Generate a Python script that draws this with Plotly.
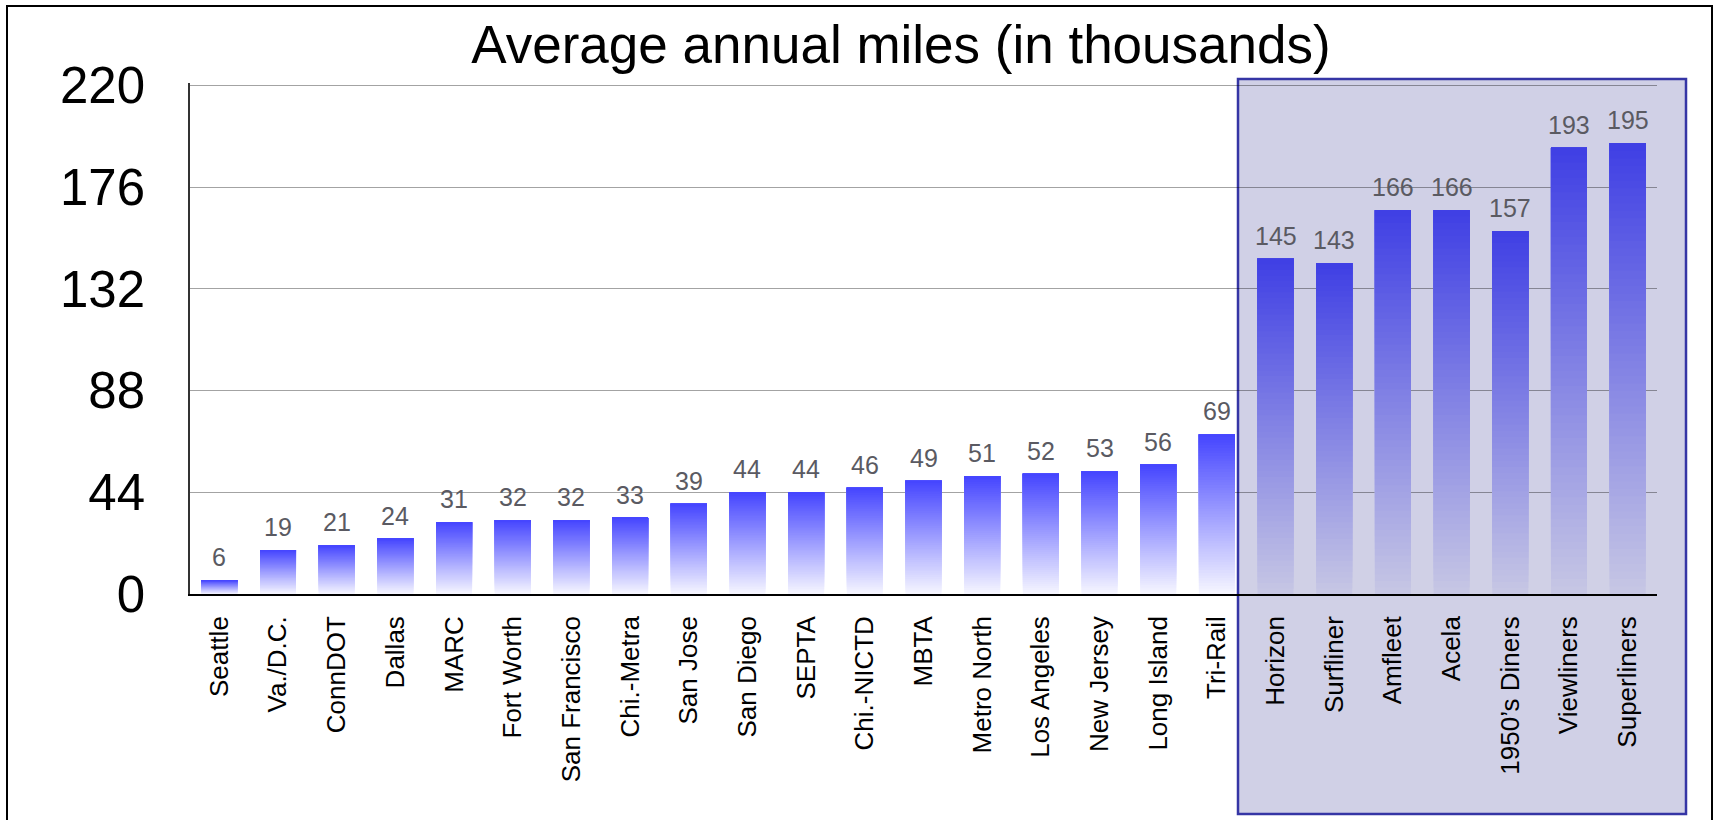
import plotly.graph_objects as go

# ---- data ----
categories = ["Seattle", "Va./D.C.", "ConnDOT", "Dallas", "MARC", "Fort Worth",
              "San Francisco", "Chi.-Metra", "San Jose", "San Diego", "SEPTA",
              "Chi.-NICTD", "MBTA", "Metro North", "Los Angeles", "New Jersey",
              "Long Island", "Tri-Rail", "Horizon", "Surfliner", "Amfleet", "Acela",
              "1950\u2019s Diners", "Viewliners", "Superliners"]
values = [6, 19, 21, 24, 31, 32, 32, 33, 39, 44, 44, 46, 49, 51, 52, 53, 56, 69,
          145, 143, 166, 166, 157, 193, 195]
highlighted = ["Horizon", "Surfliner", "Amfleet", "Acela", "1950\u2019s Diners",
               "Viewliners", "Superliners"]
y_ticks = [0, 44, 88, 132, 176, 220]
title_text = "Average annual miles (in thousands)"

# ---- layout geometry (pixels) ----
W, H = 1715, 820
L, R, T, B = 190, 1657, 83, 594
PW, PH = R - L, B - T


def px_x(p):
    return (p - L) / PW


def px_y(p):
    return (B - p) / PH


FONT = "Liberation Sans, Arial, sans-serif"

# gradient colours (bottom -> top)
out_bot, out_top = (245, 245, 255), (70, 70, 255)
in_bot, in_top = (198, 198, 228), (64, 64, 228)


def mix(a, b, t):
    return "rgb(%d,%d,%d)" % tuple(round(a[i] + (b[i] - a[i]) * t) for i in range(3))


fig = go.Figure()
N = 60
for k in range(N):
    t = k / (N - 1)
    bases = [v * k / N for v in values]
    heights = [v - b for v, b in zip(values, bases)]
    colors = [mix(in_bot, in_top, t) if c in highlighted else mix(out_bot, out_top, t)
              for c in categories]
    fig.add_trace(go.Bar(x=categories, y=heights, base=bases,
                         marker=dict(color=colors, line=dict(width=0)),
                         hoverinfo="skip", showlegend=False))

for c, v in zip(categories, values):
    fig.add_annotation(x=c, y=v, text=str(v), showarrow=False, yanchor="bottom",
                       yshift=7, font=dict(family=FONT, size=25, color="#5a5a62"))

shapes = [
    # highlight box
    dict(type="rect", xref="paper", yref="paper", layer="below",
         x0=px_x(1238), x1=px_x(1686), y0=px_y(814), y1=px_y(79),
         fillcolor="#D0D0E6", line=dict(color="#3535A5", width=2.5)),
    # outer frame
    dict(type="rect", xref="paper", yref="paper", layer="above",
         x0=px_x(7), x1=px_x(1712), y0=px_y(840), y1=px_y(6),
         fillcolor="rgba(0,0,0,0)", line=dict(color="black", width=2)),
]

fig.update_layout(
    width=W, height=H,
    margin=dict(l=L, r=W - R, t=T, b=H - B, pad=0),
    paper_bgcolor="white", plot_bgcolor="rgba(0,0,0,0)",
    barmode="overlay", bargap=0.387,
    showlegend=False,
    font=dict(family=FONT, color="black"),
    title=dict(text=title_text, x=901 / W, xanchor="center", xref="container",
               y=1 - 44 / H, yanchor="middle", yref="container",
               font=dict(family=FONT, size=53, color="black")),
    shapes=shapes,
    xaxis=dict(type="category", categoryorder="array", categoryarray=categories,
               tickangle=-90, tickfont=dict(family=FONT, size=26, color="black"),
               showline=True, linecolor="black", linewidth=1.5,
               showgrid=False, ticks="", ticklabelstandoff=10, fixedrange=True),
    yaxis=dict(range=[0, 221], tickvals=y_ticks, ticktext=[str(v) for v in y_ticks],
               tickfont=dict(family=FONT, size=51, color="black"),
               showline=True, linecolor="#333333", linewidth=1.5,
               showgrid=True, gridcolor="rgba(0,0,0,0.36)", gridwidth=1.3,
               zeroline=False, ticks="", ticklabelstandoff=33, fixedrange=True),
)

fig.write_html("out.html")
